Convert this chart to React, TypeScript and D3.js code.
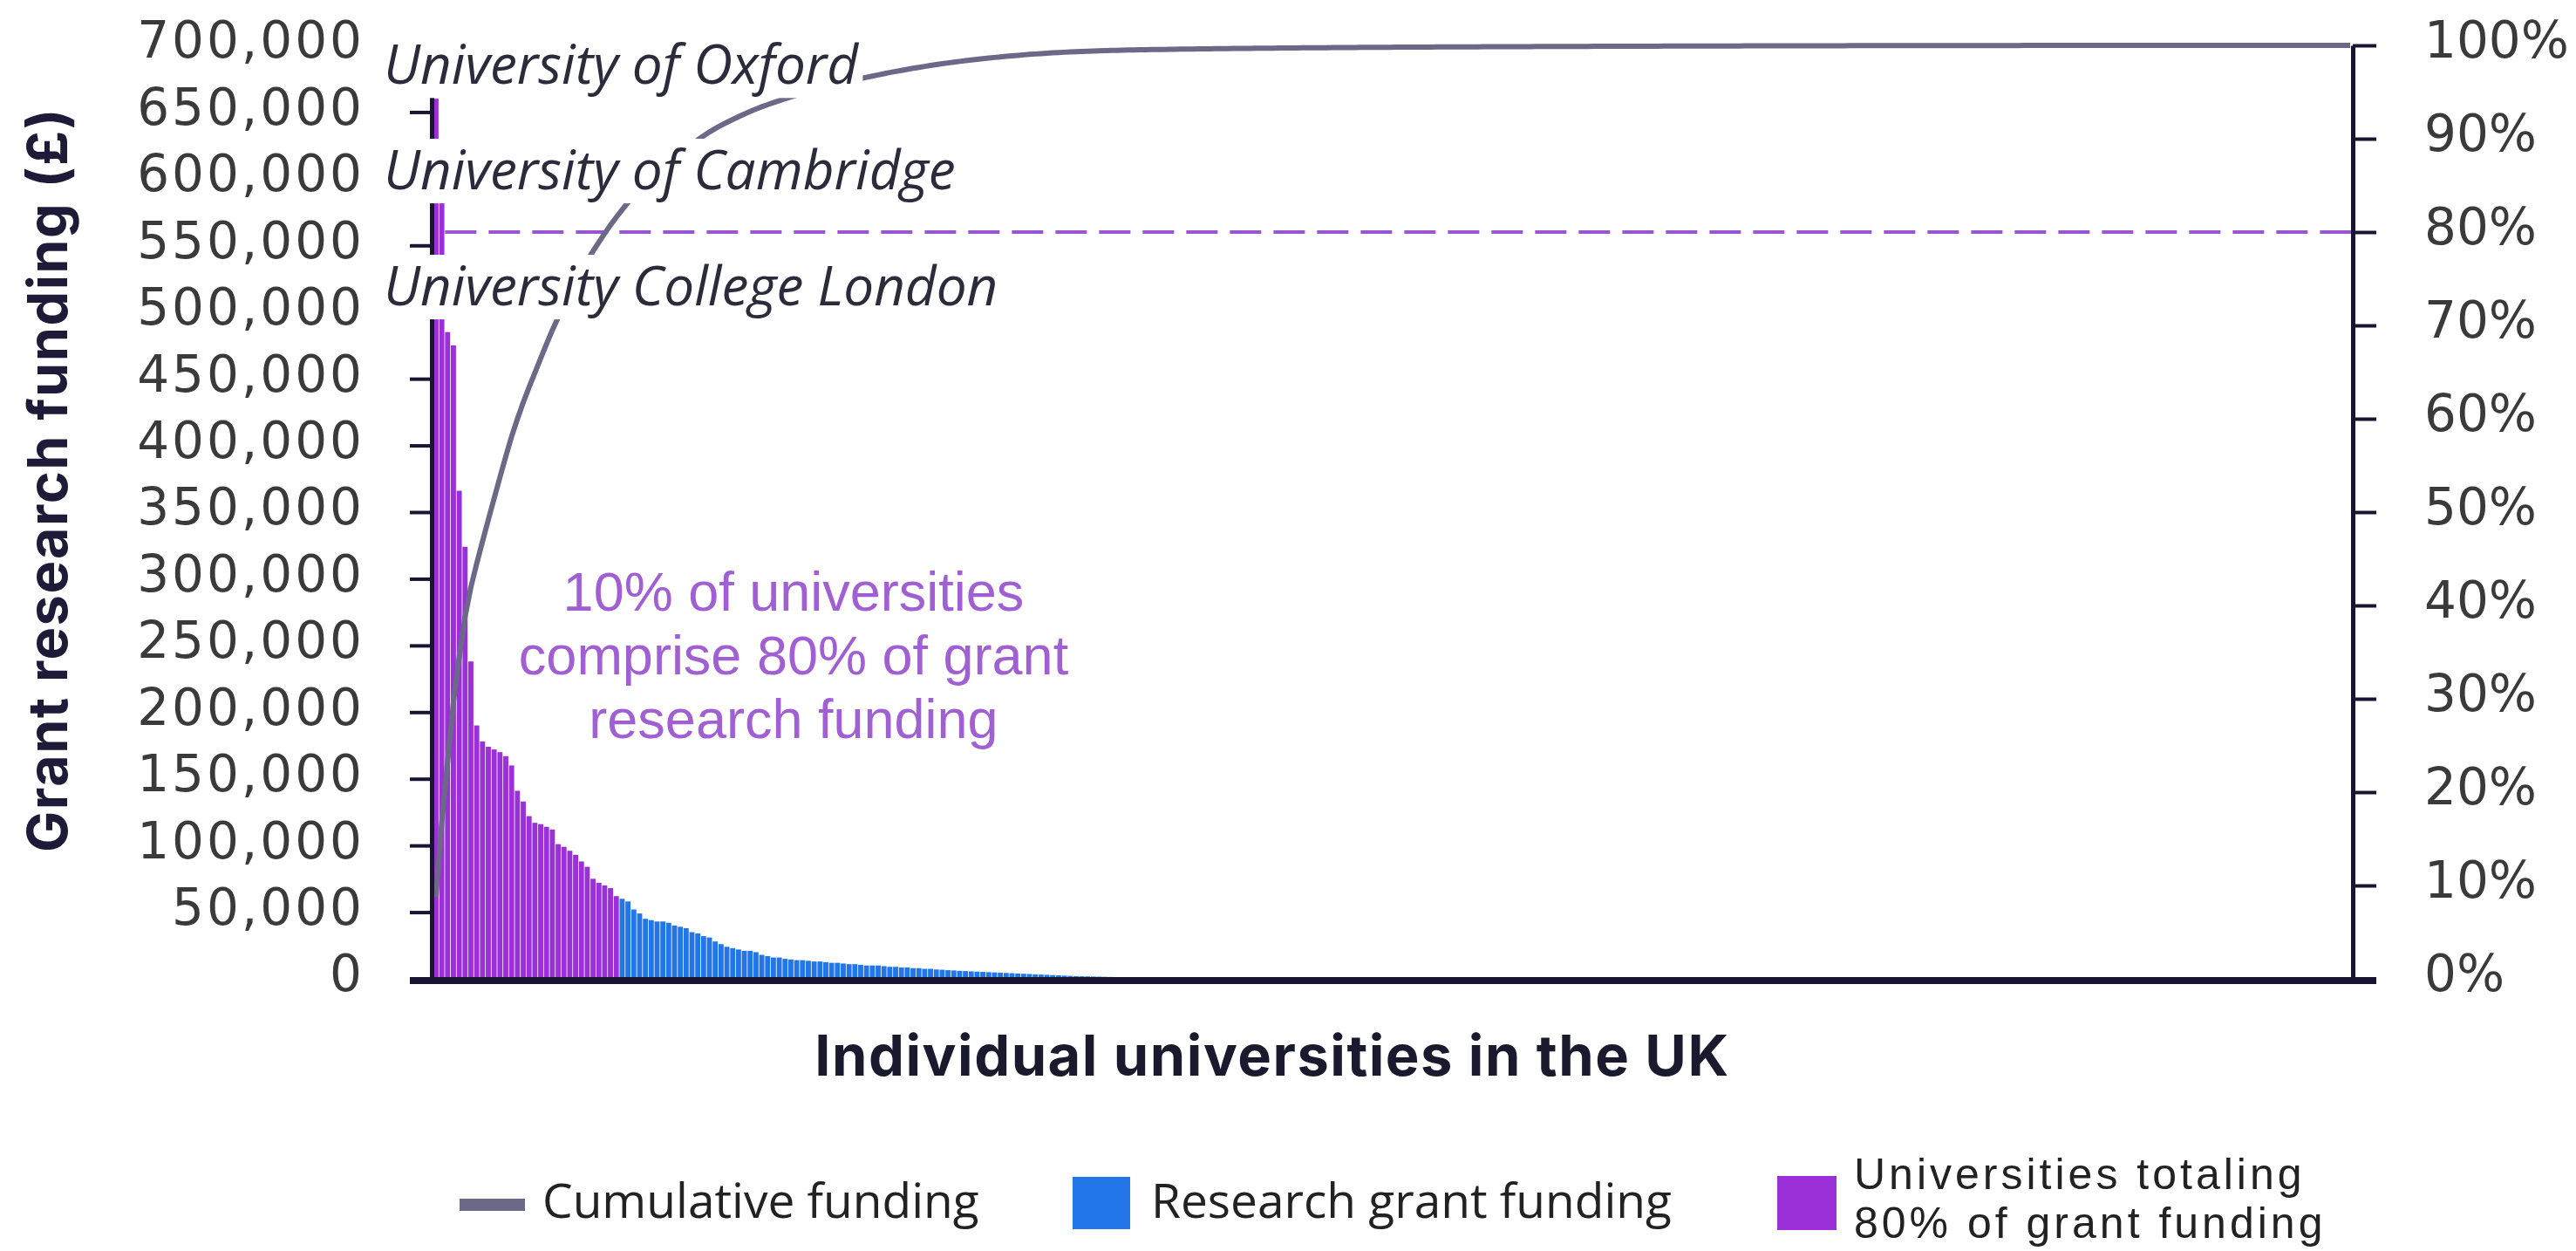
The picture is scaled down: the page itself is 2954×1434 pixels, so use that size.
import { useRef, useEffect } from "react";
import * as d3 from "d3";

const WIDTH = 2954;
const HEIGHT = 1434;
const PLOT = { left: 495, right: 2698, top: 52, bottom: 1122 };

// Grant research funding per university, £ thousands, sorted high to low
// Universities that together hold ~80% of the funding
const top80Funding = [
  660, 600, 485, 475, 366, 324, 238, 190, 178, 174, 172, 170, 167, 160, 141, 133,
  122, 117, 116, 114, 112, 101, 99, 96, 93, 88, 84, 75, 72, 70, 68, 62,
];

// The rest with visible bars
const otherFunding = [
  60, 58, 52, 49, 45, 44, 43, 43, 42, 40, 39, 38, 35, 34, 32, 31, 28, 26, 24, 23,
  22, 21, 21, 20, 18, 17, 16, 16, 15,
  14.5, 14, 14, 13.5, 13, 13, 12.5, 12, 12, 11.5, 11, 11, 10.5, 10, 10, 10, 9.5, 9,
  9, 8.5, 8.5, 8, 8, 7.5, 7.5, 7,
  6.8, 6.5, 6.3, 6, 5.8, 5.6, 5.4, 5.2, 5, 4.8, 4.6, 4.4, 4.2, 4, 3.8, 3.6, 3.4, 3.2, 3,
  2.8, 2.6, 2.4, 2.2, 2.0, 1.9, 1.8, 1.7, 1.6, 1.5, 1.4, 1.3, 1.2, 1.1, 1.0, 0.9, 0.85, 0.8,
];

// Long tail of institutions with almost no grant funding
const tailFunding = [
  0.75, 0.72, 0.7, 0.68, 0.66, 0.64, 0.62, 0.6, 0.58, 0.56, 0.55, 0.54, 0.52, 0.5, 0.5, 0.48, 0.47, 0.46, 0.45, 0.44,
  0.43, 0.42, 0.41, 0.4, 0.4, 0.39, 0.38, 0.37, 0.36, 0.36, 0.35, 0.34, 0.34, 0.33, 0.32, 0.32, 0.31, 0.3, 0.3, 0.29,
  0.28, 0.28, 0.27, 0.27, 0.26, 0.25, 0.25, 0.24, 0.24, 0.23,
  0.23, 0.23, 0.22, 0.22, 0.22, 0.21, 0.21, 0.21, 0.2, 0.2, 0.2, 0.2, 0.19, 0.19, 0.19, 0.19, 0.18, 0.18, 0.18, 0.18,
  0.17, 0.17, 0.17, 0.17, 0.16, 0.16, 0.16, 0.16, 0.16, 0.15, 0.15, 0.15, 0.15, 0.15, 0.14, 0.14, 0.14, 0.14, 0.14, 0.13,
  0.13, 0.13, 0.13, 0.13, 0.12, 0.12, 0.12, 0.12, 0.12, 0.12, 0.11, 0.11, 0.11, 0.11, 0.11, 0.1, 0.1, 0.1, 0.1, 0.1,
  0.1, 0.09, 0.09, 0.09, 0.09, 0.09, 0.09, 0.08, 0.08, 0.08, 0.08, 0.08, 0.08, 0.07, 0.07, 0.07, 0.07, 0.07, 0.07, 0.07,
  0.06, 0.06, 0.06, 0.06, 0.06, 0.06, 0.06, 0.05, 0.05, 0.05,
  0.05, 0.05, 0.05, 0.05, 0.05, 0.04, 0.04, 0.04, 0.04, 0.04, 0.04, 0.04, 0.04, 0.03, 0.03, 0.03, 0.03, 0.03, 0.03, 0.03,
  0.03, 0.03, 0.03, 0.02, 0.02, 0.02, 0.02, 0.02, 0.02, 0.02, 0.02, 0.02, 0.02, 0.02, 0.02, 0.01, 0.01, 0.01, 0.01, 0.01,
  0.01, 0.01, 0.01, 0.01, 0.01, 0.01, 0.01, 0.01, 0.01, 0.01, 0.005, 0.005, 0.005, 0.005, 0.005, 0.005, 0.005, 0.005, 0, 0,
  0, 0, 0, 0, 0, 0,
];

const fundingTicks = [0, 50, 100, 150, 200, 250, 300, 350, 400, 450, 500, 550, 600, 650, 700];
const shareTicks = [0, 0.1, 0.2, 0.3, 0.4, 0.5, 0.6, 0.7, 0.8, 0.9, 1];
const namedUniversities = ["University of Oxford", "University of Cambridge", "University College London"];
const annotationLines = ["10% of universities", "comprise 80% of grant", "research funding"];
const legendTopLines = ["Universities totaling", "80% of grant funding"];
const threshold = 0.8;

const PURPLE = "#9b2fd8";
const BLUE = "#2376e8";
const LINE_GREY = "#6c6888";
const AXIS = "#1a1433";

export default function App() {
  const svgRef = useRef<SVGSVGElement>(null);

  useEffect(() => {
    const svg = d3.select(svgRef.current);
    svg.selectAll("*").remove();
    svg.append("rect").attr("width", WIDTH).attr("height", HEIGHT).attr("fill", "#fff");

    const funding = [...top80Funding, ...otherFunding, ...tailFunding];
    const total = d3.sum(funding);
    const cumShare = Array.from(d3.cumsum(funding), (c) => c / total);

    const x = d3
      .scaleBand<number>()
      .domain(d3.range(funding.length))
      .range([PLOT.left + 2, PLOT.right])
      .paddingInner(0.12);
    const y = d3.scaleLinear().domain([0, 700]).range([PLOT.bottom, PLOT.top]);
    const yPct = d3.scaleLinear().domain([0, 1]).range([PLOT.bottom, PLOT.top]);

    // Bars
    svg
      .append("g")
      .selectAll("rect")
      .data(funding)
      .join("rect")
      .attr("x", (_, i) => x(i)!)
      .attr("width", x.bandwidth())
      .attr("y", (d) => y(d))
      .attr("height", (d) => y(0) - y(d))
      .attr("fill", (_, i) => (i < top80Funding.length ? PURPLE : BLUE));

    // 80% reference line
    svg
      .append("line")
      .attr("x1", x(2)!)
      .attr("x2", PLOT.right)
      .attr("y1", yPct(threshold))
      .attr("y2", yPct(threshold))
      .attr("stroke", "#9a55d0")
      .attr("stroke-width", 4)
      .attr("stroke-dasharray", "36,14");

    // Cumulative line
    const line = d3
      .line<number>()
      .x((_, i) => x(i)! + x.bandwidth() / 2)
      .y((d) => yPct(d));
    svg
      .append("path")
      .datum(cumShare)
      .attr("fill", "none")
      .attr("stroke", LINE_GREY)
      .attr("stroke-width", 6)
      .attr("stroke-linejoin", "round")
      .attr("d", line);

    // Left axis
    const gy = svg
      .append("g")
      .attr("transform", `translate(${PLOT.left},0)`)
      .call(
        d3
          .axisLeft(y)
          .tickValues(fundingTicks)
          .tickSize(25)
          .tickSizeOuter(0)
          .tickPadding(52)
          .tickFormat((d) => d3.format(",")((d as number) * 1000))
      );
    gy.select(".domain").attr("stroke", AXIS).attr("stroke-width", 5);
    gy.selectAll(".tick line").attr("stroke", AXIS).attr("stroke-width", 4);
    gy.selectAll(".tick text")
      .attr("fill", "#3a3a3a")
      .attr("font-family", "DejaVu Sans")
      .attr("font-size", 58)
      .attr("letter-spacing", 3)
      .attr("dy", "0.24em");

    // Right axis
    const gr = svg
      .append("g")
      .attr("transform", `translate(${PLOT.right},0)`)
      .call(
        d3
          .axisRight(yPct)
          .tickValues(shareTicks)
          .tickSize(27)
          .tickSizeOuter(0)
          .tickPadding(55)
          .tickFormat(d3.format(".0%"))
      );
    gr.select(".domain").attr("stroke", AXIS).attr("stroke-width", 5);
    gr.selectAll(".tick line").attr("stroke", AXIS).attr("stroke-width", 4);
    gr.selectAll(".tick text")
      .attr("fill", "#3a3a3a")
      .attr("font-family", "DejaVu Sans")
      .attr("font-size", 58)
      .attr("dy", "0.24em");

    // Baseline
    svg
      .append("line")
      .attr("x1", PLOT.left - 25)
      .attr("x2", PLOT.right + 27)
      .attr("y1", y(0) + 2)
      .attr("y2", y(0) + 2)
      .attr("stroke", AXIS)
      .attr("stroke-width", 8);

    // Named university labels with white boxes
    const labelLevels = [671, 592, 505];
    namedUniversities.forEach((name, i) => {
      const g = svg.append("g");
      const t = g
        .append("text")
        .attr("x", 440)
        .attr("y", y(labelLevels[i]))
        .attr("font-family", "Open Sans")
        .attr("font-style", "italic")
        .attr("font-size", 62)
        .attr("fill", "#2b2b3b")
        .text(name);
      const bb = (t.node() as SVGTextElement).getBBox();
      g.insert("rect", "text")
        .attr("x", bb.x - 4)
        .attr("y", bb.y + 8)
        .attr("width", bb.width + 8)
        .attr("height", bb.height - 10)
        .attr("fill", "#fff");
    });

    // Annotation
    svg
      .append("g")
      .selectAll("text")
      .data(annotationLines)
      .join("text")
      .attr("x", 910)
      .attr("y", (_, i) => 700 + i * 73)
      .attr("text-anchor", "middle")
      .attr("font-family", "Liberation Sans")
      .attr("font-size", 63)
      .attr("fill", "#a05fd2")
      .text((d) => d);

    // Axis titles
    svg
      .append("text")
      .attr("transform", `translate(77,550) rotate(-90)`)
      .attr("text-anchor", "middle")
      .attr("font-family", "Inter")
      .attr("font-weight", 700)
      .attr("font-size", 63)
      .attr("letter-spacing", 1.5)
      .attr("fill", "#1e1b38")
      .text("Grant research funding (£)");
    svg
      .append("text")
      .attr("x", 1459)
      .attr("y", 1233)
      .attr("text-anchor", "middle")
      .attr("font-family", "Inter")
      .attr("font-weight", 700)
      .attr("font-size", 65)
      .attr("letter-spacing", 1.5)
      .attr("fill", "#1a1a2e")
      .text("Individual universities in the UK");

    // Legend
    const lg = svg
      .append("g")
      .attr("font-family", "Open Sans")
      .attr("font-size", 55)
      .attr("fill", "#222");
    lg.append("line")
      .attr("x1", 527)
      .attr("x2", 602)
      .attr("y1", 1381)
      .attr("y2", 1381)
      .attr("stroke", LINE_GREY)
      .attr("stroke-width", 14);
    lg.append("text").attr("x", 622).attr("y", 1396).text("Cumulative funding");
    lg.append("rect").attr("x", 1230).attr("y", 1349).attr("width", 66).attr("height", 60).attr("fill", BLUE);
    lg.append("text").attr("x", 1320).attr("y", 1396).text("Research grant funding");
    lg.append("rect").attr("x", 2038).attr("y", 1348).attr("width", 68).attr("height", 62).attr("fill", PURPLE);
    lg.selectAll("text.two")
      .data(legendTopLines)
      .join("text")
      .attr("class", "two")
      .attr("x", 2126)
      .attr("y", (_, i) => 1363 + i * 56)
      .attr("font-family", "Liberation Sans")
      .attr("font-size", 50)
      .attr("letter-spacing", 4)
      .text((d) => d);
  }, []);

  return (
    <svg
      ref={svgRef}
      width={WIDTH}
      height={HEIGHT}
      viewBox={`0 0 ${WIDTH} ${HEIGHT}`}
      style={{ position: "absolute", left: 0, top: 0, display: "block" }}
    />
  );
}
